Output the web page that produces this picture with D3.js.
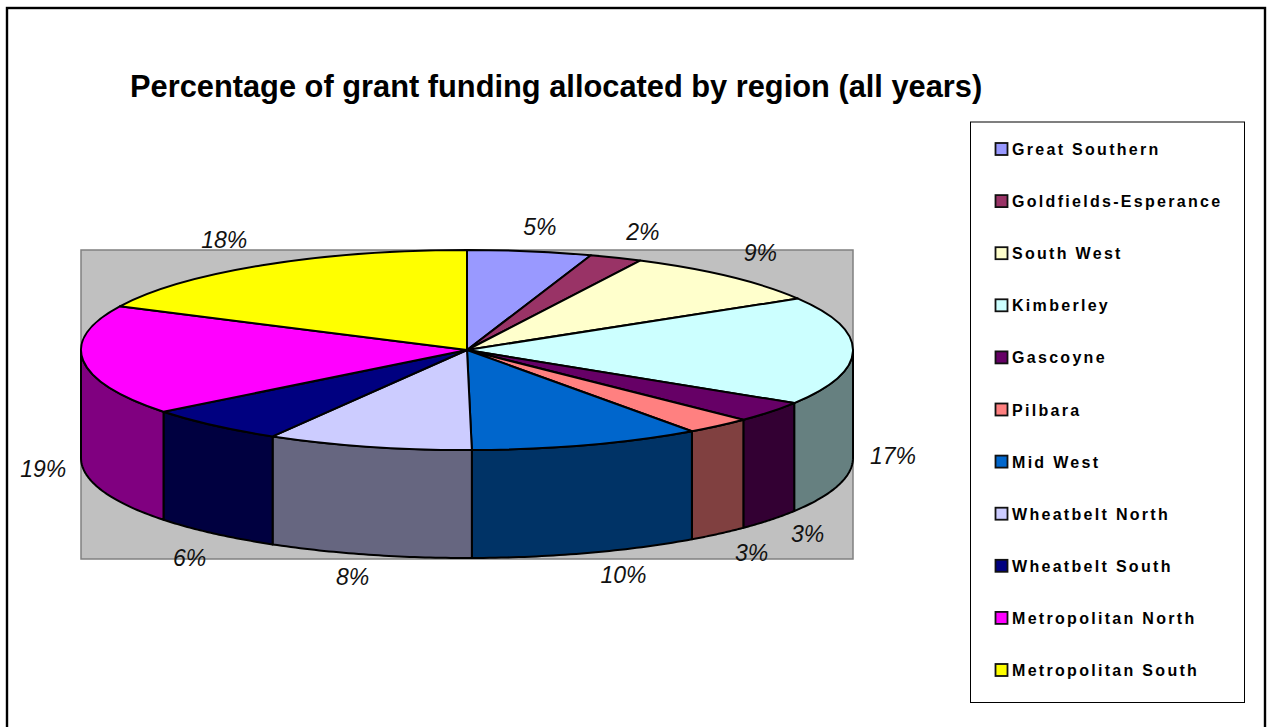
<!DOCTYPE html>
<html><head><meta charset="utf-8">
<script src="https://cdn.jsdelivr.net/npm/d3@7"></script>
<style>html,body{margin:0;padding:0;background:#fff;overflow:hidden}svg{display:block}text{font-family:"Liberation Sans",Arial,sans-serif}</style>
</head><body><div id="chart"></div>
<script>
const regions=["Great Southern","Goldfields-Esperance","South West","Kimberley","Gascoyne","Pilbara","Mid West","Wheatbelt North","Wheatbelt South","Metropolitan North","Metropolitan South"];
const shares=[5.2,2.2,9,17.5,3.4,2.8,9.7,8.6,6.0,17.8,17.8];
const percentLabels=["5%","2%","9%","17%","3%","3%","10%","8%","6%","19%","18%"];
const colours=["#9999FF","#993366","#FFFFCC","#CCFFFF","#660066","#FF8080","#0066CC","#CCCCFF","#000080","#FF00FF","#FFFF00"];
const title="Percentage of grant funding allocated by region (all years)";

const W=1268,H=727,cx=467,cy=350,rx=386,ry=100,depth=108;
const labelNudge=[[10,-24],[27,-26],[31,-24],[40,-2],[37,15],[33,20],[36,23],[-16,23],[-24,26],[-40,1],[-38,-25]];

const svg=d3.select("#chart").append("svg").attr("width",W).attr("height",H);
svg.append("rect").attr("x",7).attr("y",8).attr("width",1258).attr("height",H).attr("fill","#fff").attr("stroke","#000").attr("stroke-width",2.4);
svg.append("text").attr("x",130).attr("y",97).attr("font-size",30.8).attr("font-weight","bold").text(title);

// plot wall
svg.append("rect").attr("x",cx-rx).attr("y",250).attr("width",2*rx).attr("height",309).attr("fill","#C0C0C0").attr("stroke","#808080").attr("stroke-width",1.5);

const pie=d3.pie().sort(null).startAngle(0).endAngle(2*Math.PI);
const arcs=pie(shares);
const px=t=>cx+rx*Math.sin(t), py=t=>cy-ry*Math.cos(t);
const HALF=Math.PI/2;
const halfShade=c=>{const r=d3.rgb(c);return d3.rgb(r.r/2,r.g/2,r.b/2).formatHex();};

// side walls: visible front half only
const sideG=svg.append("g");
arcs.forEach((a,i)=>{
  const s=Math.max(a.startAngle,HALF), e=Math.min(a.endAngle,3*HALF);
  if(e<=s) return;
  const ts=d3.range(0,41).map(k=>s+(e-s)*k/40);
  const top=ts.map(t=>[px(t),py(t)]);
  const bot=ts.slice().reverse().map(t=>[px(t),py(t)+depth]);
  sideG.append("path").attr("d",d3.line()(top.concat(bot))+"Z")
    .attr("fill",halfShade(colours[i]))
    .attr("stroke","#000").attr("stroke-width",2).attr("stroke-linejoin","round");
});

// top face
const arc=d3.arc().innerRadius(0).outerRadius(rx);
svg.append("g").attr("transform",`translate(${cx},${cy}) scale(1,${ry/rx})`)
  .selectAll("path").data(arcs).join("path")
  .attr("d",arc).attr("fill",(d,i)=>colours[i])
  .attr("stroke","#000").attr("stroke-width",2).attr("vector-effect","non-scaling-stroke").attr("stroke-linejoin","round");

// data labels
svg.append("g").selectAll("text").data(arcs).join("text")
  .attr("x",(d,i)=>px((d.startAngle+d.endAngle)/2)+labelNudge[i][0])
  .attr("y",(d,i)=>{const t=(d.startAngle+d.endAngle)/2;return py(t)+(Math.cos(t)<0.05?depth-1:0)+labelNudge[i][1]+8;})
  .attr("text-anchor","middle").attr("font-size",23).attr("font-style","italic").attr("fill","#111")
  .text((d,i)=>percentLabels[i]);

// legend
svg.append("rect").attr("x",970.5).attr("y",122).attr("width",274).attr("height",580.5).attr("fill","#fff").attr("stroke","#000").attr("stroke-width",1);
const ly=d3.scaleLinear().domain([0,regions.length-1]).range([149,670]);
const leg=svg.append("g").selectAll("g").data(regions).join("g").attr("transform",(d,i)=>`translate(0,${ly(i)})`);
leg.append("rect").attr("x",995.5).attr("y",-6).attr("width",12).attr("height",12).attr("fill",(d,i)=>colours[i]).attr("stroke","#111").attr("stroke-width",1.8);
leg.append("text").attr("x",1012).attr("y",6).attr("font-size",16).attr("font-weight","bold").attr("letter-spacing",2.3).attr("fill","#000").text(d=>d);
</script></body></html>
